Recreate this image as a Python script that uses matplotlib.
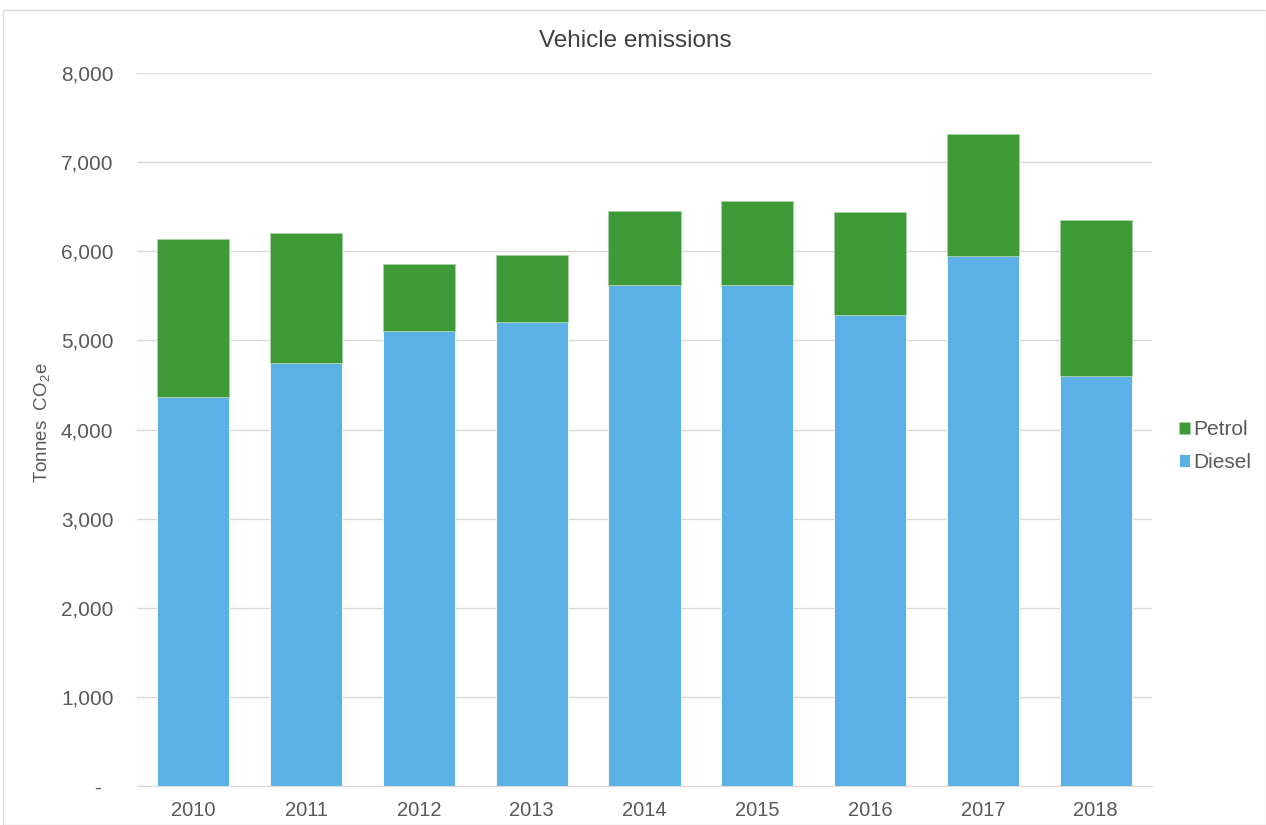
import matplotlib
matplotlib.use("Agg")
import matplotlib.pyplot as plt
from matplotlib.patches import Rectangle
from matplotlib.ticker import FuncFormatter

plt.rcParams['font.family'] = ['Liberation Sans', 'DejaVu Sans']
plt.rcParams['mathtext.fontset'] = 'custom'
plt.rcParams['mathtext.rm'] = 'Liberation Sans'
plt.rcParams['mathtext.it'] = 'Liberation Sans'

years = ['2010', '2011', '2012', '2013', '2014', '2015', '2016', '2017', '2018']
diesel = [4365, 4745, 5105, 5205, 5620, 5620, 5285, 5945, 4600]
totals = [6140, 6205, 5855, 5960, 6450, 6565, 6440, 7315, 6350]
petrol = [t - d for t, d in zip(totals, diesel)]

c_diesel = '#5BB1E5'
c_petrol = '#3D9A36'
gray = '#595959'

fig = plt.figure(figsize=(12.66, 8.25), dpi=100)
ax = fig.add_axes([137/1266, 1-786/825, (1152-137)/1266, (786-73)/825])

x = range(len(years))
ax.bar(x, diesel, width=0.64, color=c_diesel, edgecolor='white', linewidth=0.6, label='Diesel', zorder=3)
ax.bar(x, petrol, width=0.64, bottom=diesel, color=c_petrol, edgecolor='#a8d0a4', linewidth=0.6, label='Petrol', zorder=3)

ax.set_xlim(-0.5, len(years) - 0.5)
ax.set_ylim(0, 8000)
ax.set_yticks(range(0, 8001, 1000))
ax.yaxis.set_major_formatter(FuncFormatter(lambda v, p: '-  ' if v == 0 else f'{int(v):,}'))
ax.set_xticks(list(x))
ax.set_xticklabels(years)
ax.tick_params(axis='both', length=0, colors=gray)
ax.tick_params(axis='y', labelsize=15, pad=17)
ax.tick_params(axis='x', labelsize=14.5, pad=11)
ax.grid(axis='y', color='#D9D9D9', linewidth=1, zorder=0)
for s in ['top', 'right', 'left']:
    ax.spines[s].set_visible(False)
ax.spines['bottom'].set_color('#D9D9D9')
ax.spines['bottom'].set_zorder(4)

fig.text(635.5/1266, 1-47/825, 'Vehicle emissions', fontsize=17.5, color='#404040',
         ha='center', va='baseline')
fig.text(0.033, 1-423/825, 'Tonnes  CO$_2$e', rotation=90, va='center', ha='center', fontsize=13.5, color=gray)

handles, labels = ax.get_legend_handles_labels()
leg = fig.legend(handles[::-1], labels[::-1], loc='center left', bbox_to_anchor=(1160/1266, 1-446/825),
                 frameon=False, fontsize=15, handlelength=0.55, handleheight=0.55, handletextpad=0.15,
                 labelspacing=0.65, labelcolor=gray)

fig.patches.append(Rectangle((3/1266, 0), 1 - 3/1266, 1 - 10/825, transform=fig.transFigure,
                             fill=False, edgecolor='#D9D9D9', linewidth=1))

fig.savefig('out.png', dpi=100)
